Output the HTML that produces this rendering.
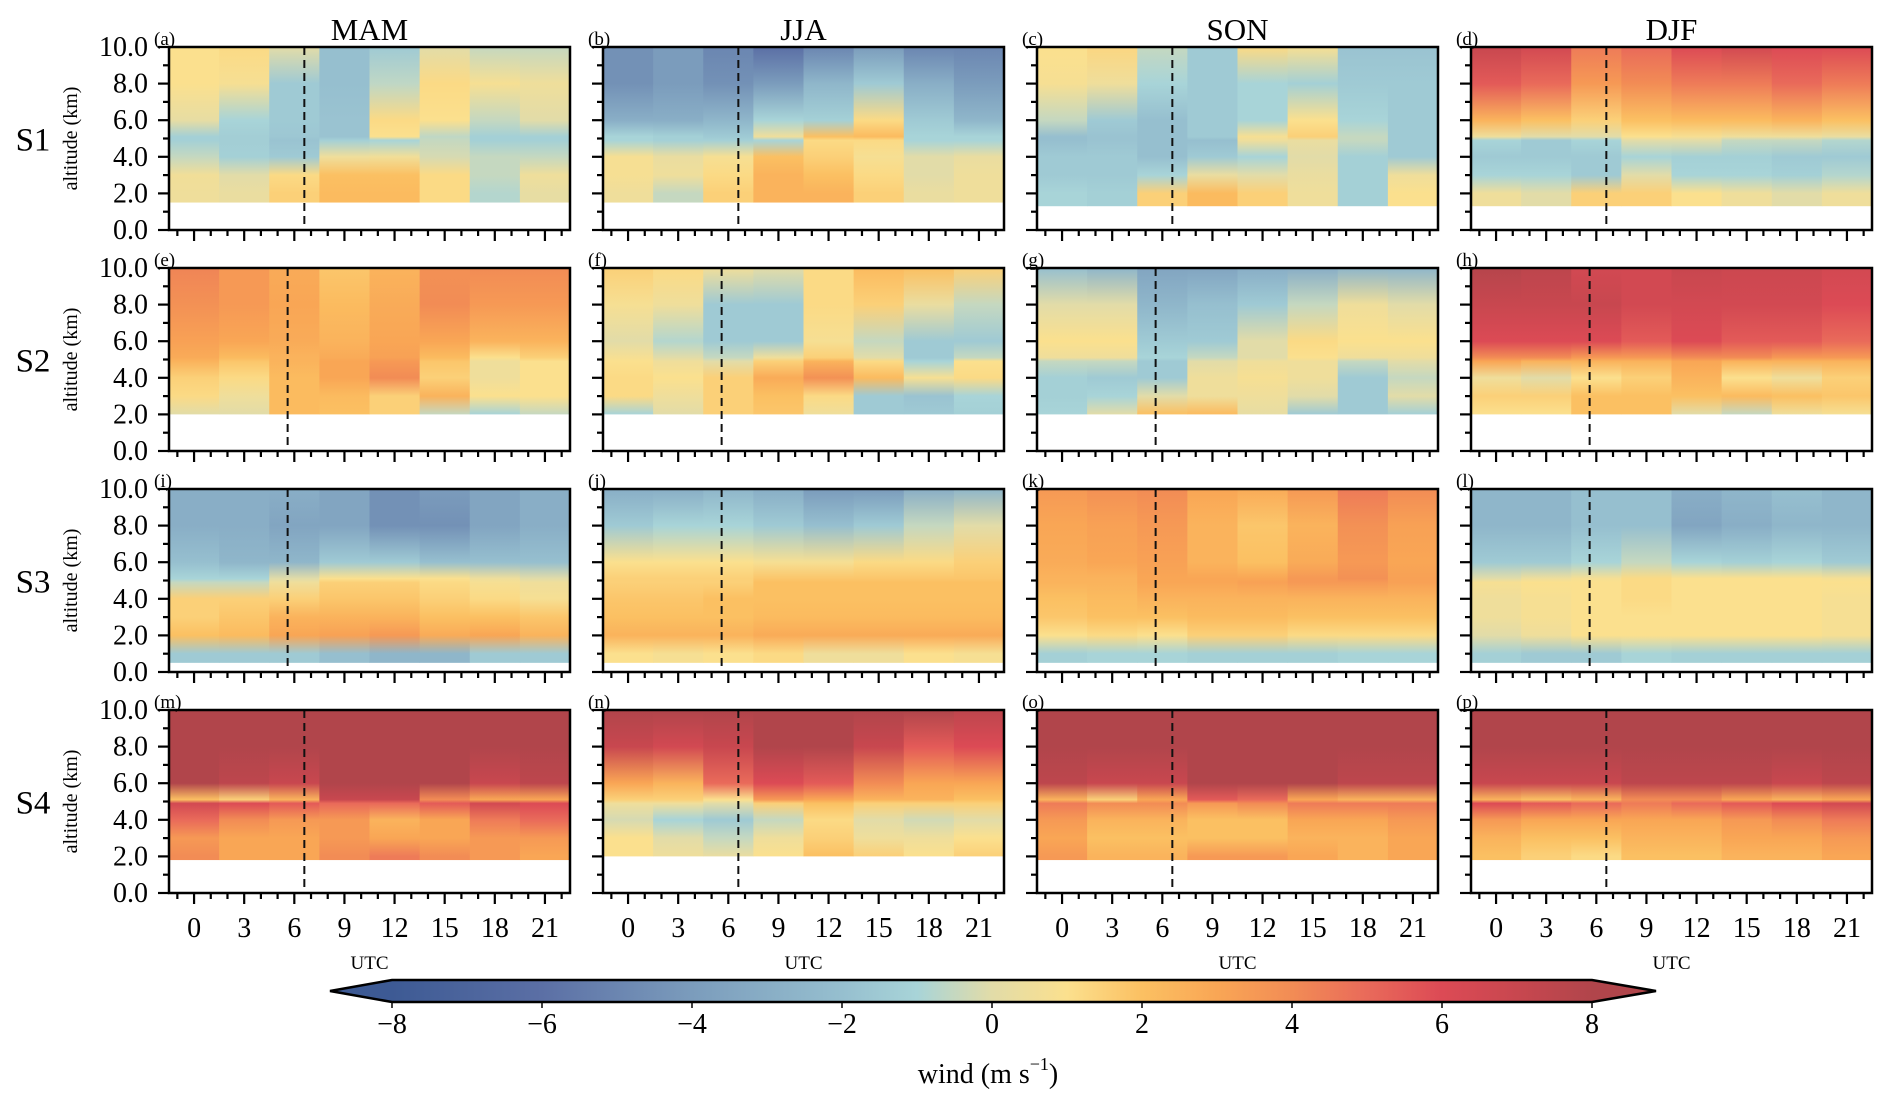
<!DOCTYPE html>
<html><head><meta charset="utf-8">
<style>
html,body{margin:0;padding:0;background:#fff;}
svg{display:block;font-family:"Liberation Serif",serif;}
</style></head>
<body>
<svg id="fig" width="1892" height="1108" viewBox="0 0 1892 1108" xmlns="http://www.w3.org/2000/svg">
<defs id="defs"></defs>
</svg>
<script>
const seasons = ["MAM","JJA","SON","DJF"];
const sites = ["S1","S2","S3","S4"];
const panelLetters = ["a","b","c","d","e","f","g","h","i","j","k","l","m","n","o","p"];
const hours = [0,3,6,9,12,15,18,21];
const xTickLabels = ["0","3","6","9","12","15","18","21"];
const yTickValues = [0,2,4,6,8,10];
const knots = [1,2,3,4,4.9,5.1,6,8,10];
const cbarTicks = [-8,-6,-4,-2,0,2,4,6,8];
const groundLevel = [[1.5,1.5,1.3,1.3],[2,2,2,2],[0.5,0.5,0.5,0.5],[1.8,2.0,1.8,1.8]];
const dashedHour = [[6.6,6.6,6.6,6.6],[5.6,5.6,5.6,5.6],[5.6,5.6,5.6,5.6],[6.6,6.6,6.6,6.6]];
const panelA = [[-1,0.5,0.6,-0.5,-1.2,-1.2,0.2,1,1],[-1,0.3,0,-1.2,-1.3,-1.3,-1,0.8,1.2],[1.5,1.5,1.2,-1.5,-1.8,-1.6,-1.5,-1.5,0],[2.2,2.2,2,0.5,-1.2,-1.8,-1.8,-2,-2],[2.2,2.2,2,0.6,-1,1.0,1.2,-0.6,-1.5],[1.2,1.2,1.2,-0.2,-0.5,-0.6,1,1.2,0],[-1,-0.8,-0.5,-0.5,-1.2,-1.2,-0.5,0.8,-0.5],[-0.8,0.2,0.5,-0.5,-1.2,-1.2,0,0.5,-0.5]];
const panelB = [[-1.2,0.5,0.8,0.8,-1,-1,-3,-4.5,-4.5],[-1.2,-0.5,0.5,0.3,-1.2,-1.2,-3,-4,-4],[1.5,1.5,1.2,0.8,-1.2,-1.5,-2.5,-4.5,-5],[2.5,2.5,2.5,2,-1,0.5,-1,-4,-6],[2.5,2.5,2,1.5,1.2,2,-1.2,-2.5,-5],[1.5,1.5,1.2,0.8,1.2,2.2,1.2,-1.5,-4],[0.8,0.3,0,0,-1,-1,-1.5,-3,-5],[-1,0.5,0.5,0.3,-1,-1,-2.5,-4,-5]];
const panelC = [[-1.5,-1,-1.5,-1.5,-2,-2,-0.5,0.8,1],[-1,-1.2,-1.5,-1.5,-1.8,-1.8,-1.5,0.5,1.3],[1.2,1.5,-1,-2,-2,-2,-2,-1,-0.5],[2.2,2.2,0.3,-1.5,-2,-1.5,-1.5,-1.5,-1.5],[2,1.5,0,-1,0.5,0.8,-1,-1,1.2],[0.8,0.5,0.3,0,0.3,1.5,1,-1.2,0.8],[-1.2,-1.2,-1.2,-1.2,-0.5,-0.5,-1,-1.5,-1.8],[-1.5,1,0.5,-1.5,-1.5,-1.5,-1.5,-1.5,-1.8]];
const panelD = [[0.5,0.5,-1,-1.5,-1,0.5,2.5,5.5,7],[0.5,0,-1,-1.5,-1.5,0,2,5,6.5],[1.5,1.5,-1.5,-1.5,-1,0,1.5,3.5,4.5],[2.2,1.5,0,-1,0,1,2,4,5],[1.5,1,-1,-1.2,0,0.8,2.2,4.5,6],[1.2,0.5,-1,-1.2,-0.5,0.5,2.2,4.5,6.5],[0.5,0,-1.2,-1.5,-0.5,0.5,2.5,5,6],[-1,0.5,-0.8,-1.5,-0.8,0.3,2,4.5,6]];
const panelE = [[0,0,1.2,1.5,2.5,2.8,3.2,3.8,4.2],[0,0,0.5,1.2,1.8,2.2,3,3.5,3.5],[2.2,2.2,2.2,2.2,2.5,2.5,2.8,3,2.8],[2,2,2.2,3,3,2.8,2.5,2.2,1.8],[1.5,1.5,1.5,4,3.5,3.2,3,2.8,2.5],[-0.5,-0.5,2.5,1.5,1.8,2.2,3,4,3.8],[-1,-1,1,0.5,0.5,1,2.5,3.5,4],[-0.5,-0.5,1,1,1,1.5,2.5,3.5,4]];
const panelF = [[-1,-1,1.2,1.2,1,0.8,0,0.8,1.5],[0,0,0.5,1,0.5,0,-0.8,0.5,1.2],[1.5,1.5,1.5,1.5,0,-0.5,-1.5,-1.5,0.5],[1.8,1.8,2,2.8,1.5,0.5,-1.5,-1.5,0],[0.5,0.5,1.2,3.8,2.5,1.5,0.8,1.2,1.2],[-1.5,-1.5,-1.5,2.2,1.2,0,-0.5,1.5,2.2],[-1.5,-1.5,-1.8,0.8,-1,-1.5,-1.5,0.3,2],[-1.2,-1.2,-1,1.2,1,-0.5,-1.5,-0.5,1.5]];
const panelG = [[-1,-1,-1.2,-1.2,-0.5,0.5,1,0,-2],[0,0,-1,-1.5,-0.5,0.5,1,0,-2.5],[2,2,0,-1.5,-1.5,-1,-1.5,-2.5,-3.5],[2.2,2.2,0.5,0.5,0,-0.5,-1.5,-2,-3.5],[0.2,0.2,0.5,0.8,0.5,0,0,-1.5,-3],[-1.5,-1.5,0,0.5,0.5,1,1.2,-0.5,-3],[-1.5,-1.5,-1.5,-1.5,-0.5,0.5,1,0.5,-2.5],[-1.2,-1.2,0,-0.5,0,0.5,1,0,-2.5]];
const panelH = [[1,1,1.5,0.5,3,4,6,7,7.8],[1,1,1.5,0,2.5,4,6,7,7.5],[2,2,2,1,2.5,3.5,6,7,6.5],[2,2,2,1.5,2.5,3.5,5.5,6.5,6.5],[0,0,2,2.5,3,4,6,6.5,7],[-0.5,-0.5,2.2,1,2.5,4,5.5,6.5,6.8],[0.5,0.5,2,0.5,2.5,3.5,5.5,6.5,6.8],[0.8,0.8,1.8,1.5,2.5,3.5,5,6,6.5]];
const panelI = [[-1.5,2,1.5,1.5,-0.5,-1,-2,-3,-3],[-1.5,2.2,1.8,1.5,-0.5,-1,-2.5,-3,-3],[-1.5,3,2.5,1.5,0.5,0,-2.5,-3.5,-3],[-2,3.2,2.5,1.8,1.5,1,-1.5,-3.5,-3.5],[-2.5,3.5,2.5,1.8,1.5,1,-1.5,-4.5,-4.5],[-2.5,2.8,2,1.5,1.2,1,-2,-4.5,-4],[-1.5,3,2,1.2,0.8,0.5,-2,-3.5,-3.5],[-1.5,2.5,1.8,0.8,0.5,0,-2,-3,-3]];
const panelJ = [[1,2.5,2,1.8,1.5,1.5,1,-1.5,-3],[0.8,2.5,2,1.8,1.5,1.5,1,-1,-3],[1,2.5,2,2,1.5,1.5,1,-1,-2.5],[1.2,2.8,2.2,2,2,1.8,0.8,-1.5,-3],[0.5,2.8,2.2,2,2,1.8,0.8,-2,-4],[0.5,2.8,2.2,2,2,1.8,1.2,-1.5,-4],[1,2.8,2.2,2,2,1.8,1.2,-0.5,-3],[0.8,2.8,2.2,2,2,1.8,1.5,0,-2.5]];
const panelK = [[-1.2,1,1.8,2,2.5,2.5,2.8,3,3.5],[-1,1.2,2,2.2,2.5,2.5,3,3.2,3.8],[-1,1,2,2.5,3,3,3.2,3.5,4],[-1.2,1.5,2.2,2.5,3,3,2.5,2.5,3],[-1.2,1.5,2.2,2.5,3.2,3,2,1.8,2.8],[-1.2,1.2,2,2.5,3.5,3.5,2.8,2.5,3.5],[-1,1.2,2,2.5,3.5,3.8,3.5,3.8,4.5],[-1,1.2,2,2.5,3.2,3.2,3,3.2,4]];
const panelL = [[-1.2,0,0.5,0.5,0.8,0,-1.5,-2.5,-2.5],[-1.5,0.5,0.8,0.8,1,0.5,-1.5,-2.5,-2.5],[-1.5,1,1,1,1,0.8,-1,-2,-2],[-1,1,1,1.2,1.2,1.2,-0.5,-2,-2],[-1.2,1,1,1,1,1,-1,-3.5,-3],[-1.2,1,1,1,1,1,-1.2,-3,-2.5],[-1.2,1,1,1,1,1,-1,-2.5,-2],[-1.2,0.8,0.8,0.8,1,0.8,-1.5,-2.5,-2.5]];
const panelM = [[4,4,3.5,5,6.5,2,8,8,8],[3,3,3,4,6,1.5,7.5,8,8],[3,3,3,3.5,5.5,2.5,7,8,8],[4,4,3.5,3.5,5,7,8,8,8],[4.5,4.5,3,2.5,5,7,8,8,8],[4,4,3,3,5.5,4,8,8,8],[3.5,3.5,3.5,4.5,6.5,3,7,8,8],[3,3,3.5,5,6,3,7.5,8,8]];
const panelN = [[1,1,1,-0.2,0.5,1.5,3,7,8],[0.5,0.5,0,-1,0.5,1.5,2.5,6.5,8],[0.3,0.3,-0.5,-1.5,0,1,5,7,8],[1,1,0.5,-0.5,1.5,3.5,6,8,8],[2,2,1.5,1.2,2,3,5.5,8,8],[1.5,1.5,0.5,0,1.5,2.5,4,7,8],[1,1,0.5,-0.3,1.5,2.5,3,5.5,8],[1.5,1.5,1,0,1.5,2,3,6,7.5]];
const panelO = [[3.5,3.5,3,3.5,4.5,2.5,7.5,8,8],[2.5,2.5,2,2.5,4,1.5,7,8,8],[2.5,2.5,2,2.5,4,3,7,8,8],[3.5,3.5,2,2,3.5,5.5,8,8,8],[3.5,3.5,2,2,4,5,8,8,8],[3,3,2.5,3,4.5,3,8,8,8],[2.5,2.5,2.5,3,4.5,2.5,7.5,8,8],[3,3,3,3.5,4.5,2.5,7.5,8,8]];
const panelP = [[1.5,2,2.5,3.5,6,2.5,7,8,8],[1,1.5,2,3,5.5,2,7,8,8],[0.8,1.2,2,3,5,2.5,7,8,8],[1.5,2,2.5,3,4.5,4,7.5,8,8],[1.5,2,2.5,3,5,4,7.5,8,8],[2,2.5,3,3.5,5.5,3,7.5,8,8],[2,2.5,3,4,6,2.5,7,8,8],[2,3,3.5,4.5,6.5,3,7.5,8,8]];
const panels = [panelA,panelB,panelC,panelD,panelE,panelF,panelG,panelH,panelI,panelJ,panelK,panelL,panelM,panelN,panelO,panelP];

const cmapV = [-8,-6,-4,-2,-1,0,1,2,3,4,5,6,7,8];
const cmapC = ["#3d5a94","#5b6fa5","#7b9cbc","#96bfcf","#a8d4d8","#e2dca8","#fbe08e","#fbc062","#f9a655","#f28c55","#e96a5a","#dc4a55","#c8474f","#b1454b"];
function hex2rgb(h){return [parseInt(h.slice(1,3),16),parseInt(h.slice(3,5),16),parseInt(h.slice(5,7),16)];}
function color(v){
  if(v<=cmapV[0]) return cmapC[0];
  if(v>=cmapV[cmapV.length-1]) return cmapC[cmapC.length-1];
  for(let i=0;i<cmapV.length-1;i++){
    if(v>=cmapV[i]&&v<=cmapV[i+1]){
      const t=(v-cmapV[i])/(cmapV[i+1]-cmapV[i]);
      const a=hex2rgb(cmapC[i]),b=hex2rgb(cmapC[i+1]);
      return "rgb("+a.map((x,k)=>Math.round(x+(b[k]-x)*t)).join(",")+")";
    }
  }
}

const NS="http://www.w3.org/2000/svg";
const svg=document.getElementById("fig");
const defs=document.getElementById("defs");
function mk(tag,attrs,parent){const e=document.createElementNS(NS,tag);for(const k in attrs)e.setAttribute(k,attrs[k]);(parent||svg).appendChild(e);return e;}

const colLeft=[169,603,1037,1471], rowTop=[47,268,489,710], PW=401, PH=183;
const H0=-1.5,H1=22.5;

for(let r=0;r<4;r++){
  for(let c=0;c<4;c++){
    const idx=r*4+c, L=colLeft[c], T=rowTop[r];
    const xs=h=>L+(h-H0)/(H1-H0)*PW;
    const ys=a=>T+PH-(a/10)*PH;
    const g=mk("g",{});
    
    
    const data=panels[idx], gl=groundLevel[r][c];
    data.forEach((col,ci)=>{
      const gid="gr"+idx+"_"+ci;
      const lg=mk("linearGradient",{id:gid,x1:0,y1:0,x2:0,y2:1},defs);
      const ks=[];
      for(let k=knots.length-1;k>=0;k--){ if(knots[k]>=gl) ks.push(k); }
      ks.forEach(k=>{ mk("stop",{offset:((10-knots[k])/(10-gl)).toFixed(4),"stop-color":color(col[k])},lg); });
      const x0=xs(hours[ci]-1.5), x1=xs(hours[ci]+1.5);
      const cell=mk("rect",{x:x0,y:ys(10),width:x1-x0+0.4,height:ys(gl)-ys(10),fill:"url(#"+gid+")"},g);
      
      
    });
    const dx=xs(dashedHour[r][c]);
    const dl=mk("line",{x1:dx,x2:dx,y1:T,y2:T+PH,stroke:"#111","stroke-width":2,"stroke-dasharray":"8,5"},g);
    
    
    const fr=mk("rect",{x:L,y:T,width:PW,height:PH,fill:"none",stroke:"#000","stroke-width":2.5},g);
    
    
    for(let a=0;a<=10;a++){
      const y=ys(a), major=(a%2===0);
      mk("line",{x1:L-(major?11:6),x2:L,y1:y,y2:y,stroke:"#000","stroke-width":2.2},g);
    }
    if(c===0){
      yTickValues.forEach(a=>{
        const t=mk("text",{x:L-21,y:ys(a)+9,"text-anchor":"end","font-size":28},g);
        t.textContent=a.toFixed(1);
        
        
      });
    }
    for(let h=-1;h<=22;h++){
      const x=xs(h), major=(h%3===0);
      mk("line",{x1:x,x2:x,y1:T+PH,y2:T+PH+(major?11:6),stroke:"#000","stroke-width":2.2},g);
    }
    if(r===3){
      hours.forEach((h,i)=>{
        const t=mk("text",{x:xs(h),y:T+PH+44,"text-anchor":"middle","font-size":28},g);
        t.textContent=xTickLabels[i];
        
        
      });
      const u=mk("text",{x:L+PW/2,y:969,"text-anchor":"middle","font-size":19},g);
      u.textContent="UTC";
      
      
    }
    const pl=mk("text",{x:L-15,y:T-2,"font-size":19},g);
    pl.textContent="("+panelLetters[idx]+")";
    
    
    if(r===0){
      const st=mk("text",{x:L+PW/2,y:40,"text-anchor":"middle","font-size":31},g);
      st.textContent=seasons[c];
      
      
    }
    if(c===0){
      const sl=mk("text",{x:33,y:T+PH/2+12,"text-anchor":"middle","font-size":33},g);
      sl.textContent=sites[r];
      
      
      const al=mk("text",{x:0,y:0,"text-anchor":"middle","font-size":20,transform:"translate(77,"+(T+PH/2)+") rotate(-90)"},g);
      al.textContent="altitude (km)";
      
      
    }
  }
}

const CB0=392, CB1=1592, CBT=980, CBB=1002;
const cbx=v=>CB0+(v+8)/16*(CB1-CB0);
const cg=mk("g",{});


const cgrad=mk("linearGradient",{id:"cbgrad",x1:0,y1:0,x2:1,y2:0},defs);
cmapV.forEach((v,i)=>{mk("stop",{offset:((v+8)/16).toFixed(4),"stop-color":cmapC[i]},cgrad);});
mk("rect",{x:CB0,y:CBT,width:CB1-CB0,height:CBB-CBT,fill:"url(#cbgrad)"},cg);
mk("polygon",{points:CB0+","+CBT+" 330,"+((CBT+CBB)/2)+" "+CB0+","+CBB,fill:cmapC[0]},cg);
mk("polygon",{points:CB1+","+CBT+" 1656,"+((CBT+CBB)/2)+" "+CB1+","+CBB,fill:cmapC[cmapC.length-1]},cg);
mk("polygon",{points:CB0+","+CBT+" "+CB1+","+CBT+" 1656,"+((CBT+CBB)/2)+" "+CB1+","+CBB+" "+CB0+","+CBB+" 330,"+((CBT+CBB)/2),fill:"none",stroke:"#000","stroke-width":2.5},cg);
cbarTicks.forEach(v=>{
  mk("line",{x1:cbx(v),x2:cbx(v),y1:CBB,y2:CBB+6,stroke:"#000","stroke-width":1.5},cg);
  const t=mk("text",{x:cbx(v),y:1033,"text-anchor":"middle","font-size":28},cg);
  t.textContent=(v<0?"\u2212"+Math.abs(v):String(v));
  
  
});
const wl=mk("text",{x:988,y:1083,"text-anchor":"middle","font-size":28},cg);
wl.innerHTML='wind  (m s<tspan dy="-13" font-size="18">\u22121</tspan><tspan dy="13">)</tspan>';


</script>
</body></html>
